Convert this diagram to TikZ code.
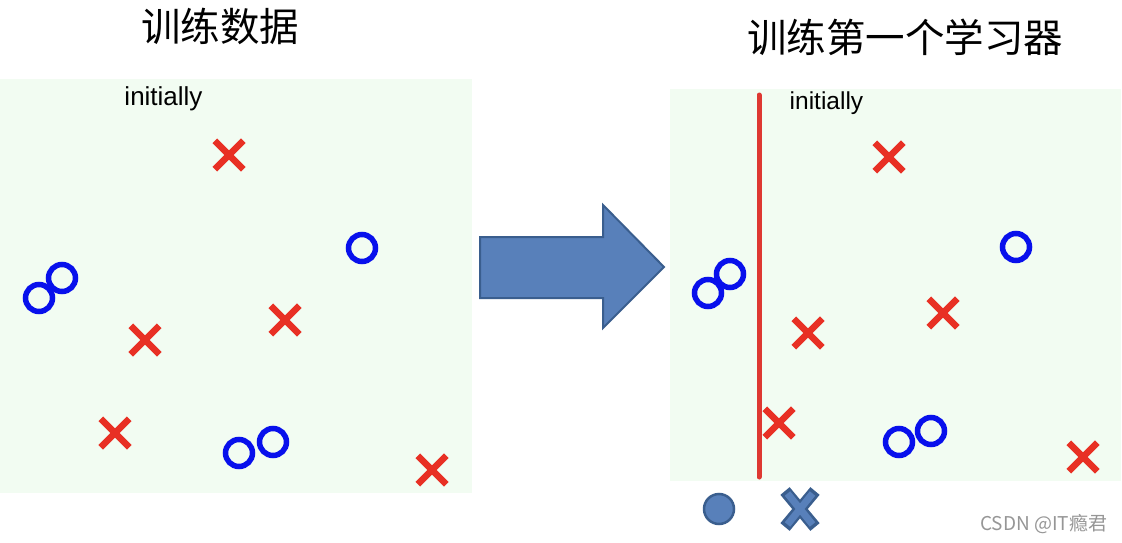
\documentclass[tikz,border=0pt]{standalone}
\usepackage{fontspec}
\setmainfont{Liberation Sans}
\newfontfamily\cjk{Noto Sans CJK SC}
\usetikzlibrary{shapes.misc}
\definecolor{panelbg}{RGB}{242,252,242}
\definecolor{xred}{RGB}{232,48,36}
\definecolor{oblue}{RGB}{8,16,236}
\definecolor{linered}{RGB}{222,56,50}
\definecolor{arrowfill}{RGB}{88,128,186}
\definecolor{arrowedge}{RGB}{58,94,142}
\definecolor{wmgray}{RGB}{150,150,150}
\tikzset{
  panel/.style={fill=panelbg, draw=none},
  xmark/.style={cross out, draw=xred, line width=6.5pt, minimum size=22pt, inner sep=0pt},
  omark/.style={circle, draw=oblue, line width=5.5pt, minimum size=27pt, inner sep=0pt},
  title/.style={font=\cjk\fontsize{39.5}{45}\selectfont, inner sep=0pt},
  lbl/.style={inner sep=0pt, anchor=base},
}
\begin{document}
\begin{tikzpicture}[x=1pt,y=-1pt]
\useasboundingbox (0,0) rectangle (1122,543);
\fill[white] (0,0) rectangle (1122,543);
% panels
\path[panel] (0,79) rectangle (472,493);
\path[panel] (670,89) rectangle (1121,481);
% titles
\node[title] (t1) at (220,26) {训练数据};
\node[title] (t2) at (905,37) {训练第一个学习器};
% labels
\node[lbl, font=\fontsize{26}{31}\selectfont] (i1) at (163.5,106) {initially};
\node[lbl, font=\fontsize{24.5}{29}\selectfont] (i2) at (826.5,109) {initially};
% left markers
\node[xmark] (lx1) at (229,155) {};
\node[xmark] (lx2) at (285,320) {};
\node[xmark] (lx3) at (145,340) {};
\node[xmark] (lx4) at (115,433) {};
\node[xmark] (lx5) at (432,470) {};
\node[omark] (lo1) at (39,298) {};
\node[omark] (lo2) at (62,278) {};
\node[omark] (lo3) at (362,248) {};
\node[omark] (lo4) at (239,453) {};
\node[omark] (lo5) at (273,442) {};
% arrow
\draw[fill=arrowfill, draw=arrowedge, line width=2pt, line join=miter]
  (480,237) -- (603,237) -- (603,205) -- (664,267) -- (603,328) -- (603,298) -- (480,298) -- cycle;
% right panel
\coordinate (ltop) at (759,95);
\coordinate (lbot) at (759,477);
\draw[linered, line width=5pt, line cap=round] (ltop) -- (lbot);
\node[xmark] (rx1) at (889,157) {};
\node[xmark] (rx2) at (943,313) {};
\node[xmark] (rx3) at (808,333) {};
\node[xmark] (rx4) at (779,423) {};
\node[xmark] (rx5) at (1083,457) {};
\node[omark] (ro1) at (708,293) {};
\node[omark] (ro2) at (730,274) {};
\node[omark] (ro3) at (1016,247) {};
\node[omark] (ro4) at (899,442) {};
\node[omark] (ro5) at (931,431) {};
% legend
\node[circle, fill=arrowfill, draw=arrowedge, line width=2.5pt, minimum size=30pt, inner sep=0pt] (lgo) at (719,509) {};
\node[cross out, draw=arrowedge, line width=12pt, minimum width=18pt, minimum height=24pt, inner sep=0pt] (lgx) at (800,509) {};
\node[cross out, draw=arrowfill, line width=7pt, minimum width=18pt, minimum height=24pt, inner sep=0pt] (lgx2) at (800,509) {};
% watermark
\node[anchor=west, inner sep=0pt, text=wmgray, font=\cjk\fontsize{19}{23}\selectfont] (wm) at (980,524) {CSDN @IT瘾君};
\end{tikzpicture}
\end{document}
